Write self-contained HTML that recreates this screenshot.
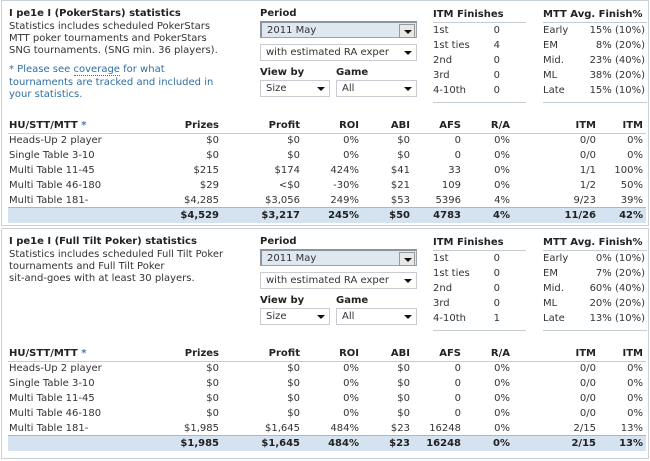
<!DOCTYPE html>
<html><head><meta charset="utf-8"><style>
body{margin:0;width:650px;height:461px;background:#fff;font-family:"DejaVu Sans","Liberation Sans",sans-serif;font-size:10px;color:#333;position:relative;overflow:hidden}
.a{position:absolute;white-space:nowrap;line-height:12px}
.b{font-weight:bold;color:#222}
.panel{position:absolute;left:1px;width:646px;border:1px solid #c8d0d8}
.sel{position:absolute;border:1px solid #c8ccd2;background:#fff;font-size:10px;line-height:15px;padding-left:5px;box-sizing:border-box;height:17px}
.sel.hl{background:#dfe7f1;border-color:#9aa4ae;border-top:2px solid #8a949e;border-left:2px solid #8a949e}
.arr{position:absolute;right:4px;top:6px;width:0;height:0;border-left:4px solid transparent;border-right:4px solid transparent;border-top:4px solid #111}
.btn{position:absolute;right:1px;top:1px;width:14px;height:12px;background:#e8e8e8;border:1px solid #999}
.btn .arr{right:2px;top:5px}
.line{position:absolute;height:1px;background:#c4ccd4}
.tot{position:absolute;left:8px;width:638px;height:15px;background:#d5e2ef}
</style></head><body>
<div id="root"></div>
<script>
const rowLabels=["Heads-Up 2 player","Single Table 3-10","Multi Table 11-45","Multi Table 46-180","Multi Table 181-"];
const headers=["Prizes","Profit","ROI","ABI","AFS","R/A","ITM","ITM"];
const colRight=[219,300,359,410,461,510,596,643];
const t1=[["$0","$0","0%","$0","0","0%","0/0","0%"],["$0","$0","0%","$0","0","0%","0/0","0%"],["$215","$174","424%","$41","33","0%","1/1","100%"],["$29","<$0","-30%","$21","109","0%","1/2","50%"],["$4,285","$3,056","249%","$53","5396","4%","9/23","39%"]];
const t1tot=["$4,529","$3,217","245%","$50","4783","4%","11/26","42%"];
const t2=[["$0","$0","0%","$0","0","0%","0/0","0%"],["$0","$0","0%","$0","0","0%","0/0","0%"],["$0","$0","0%","$0","0","0%","0/0","0%"],["$0","$0","0%","$0","0","0%","0/0","0%"],["$1,985","$1,645","484%","$23","16248","0%","2/15","13%"]];
const t2tot=["$1,985","$1,645","484%","$23","16248","0%","2/15","13%"];
const itmLabels=["1st","1st ties","2nd","3rd","4-10th"];
const itm1=["0","4","0","0","0"];
const itm2=["0","0","0","0","1"];
const mttLabels=["Early","EM","Mid.","ML","Late"];
const mtt1=["15% (10%)","8% (20%)","23% (40%)","38% (20%)","15% (10%)"];
const mtt2=["0% (10%)","7% (20%)","60% (40%)","20% (20%)","13% (10%)"];

const root=document.getElementById('root');
function el(html){const d=document.createElement('div');d.innerHTML=html;const e=d.firstChild;root.appendChild(e);return e;}
function txt(x,y,s,cls,name,right){const e=document.createElement('div');e.className='a '+(cls||'');e.textContent=s;e.style.top=(y-6)+'px';if(right){e.style.right=(650-x)+'px';}else{e.style.left=x+'px';}


root.appendChild(e);return e;}

function panel(o){
  const p=document.createElement('div');p.className='panel';p.style.top=o.top+'px';p.style.height=o.h+'px';
  
  
  root.appendChild(p);
  const y0=o.top;
  txt(9,y0+14,o.title,'b',o.name+'-title');
  o.desc.forEach((l,i)=>txt(9,y0+27+i*12,l,'',o.name+'-description'));
  if(o.note){const n=txt(9,y0+70,'','',o.name+'-coverage-note');n.style.color='#2f6ea5';n.style.lineHeight='12.5px';n.innerHTML='* Please see <span style="border-bottom:1px dotted #2f6ea5">coverage</span> for what<br>tournaments are tracked and included in<br>your statistics.';}
  txt(260,y0+14,'Period','b',o.name+'-period-label');
  const s=[[260,y0+21,157,'2011 May',true,'period-select'],[260,y0+44,157,'with estimated RA exper',false,'ra-select'],[260,y0+80,70,'Size',false,'view-by-select'],[336,y0+80,81,'All',false,'game-select']];
  s.forEach(a=>{const e=document.createElement('div');e.className='sel'+(a[4]?' hl':'');e.style.left=a[0]+'px';e.style.top=a[1]+'px';e.style.width=a[2]+'px';e.textContent=a[3];
    
    
    const ar=document.createElement('div');ar.className='arr';
    if(a[4]){const b=document.createElement('div');b.className='btn';b.appendChild(ar);e.appendChild(b);}else e.appendChild(ar);
    root.appendChild(e);});
  txt(260,y0+73,'View by','b',o.name+'-view-by-label');
  txt(336,y0+73,'Game','b',o.name+'-game-label');
  txt(433,y0+15,'ITM Finishes','b',o.name+'-itm-title');
  txt(543,y0+15,'MTT Avg. Finish%','b',o.name+'-mtt-title');
  [[433,93],[543,104]].forEach(a=>{const l=el('<div class="line"></div>');l.style.left=a[0]+'px';l.style.width=a[1]+'px';l.style.top=(y0+22)+'px';
    const l2=el('<div class="line"></div>');l2.style.left=a[0]+'px';l2.style.width=a[1]+'px';l2.style.top=(y0+102)+'px';});
  itmLabels.forEach((l,i)=>{const y=y0+31+i*15;txt(433,y,l,'',o.name+'-itm-label');txt(500,y,o.itm[i],'',o.name+'-itm-value',true);
    txt(543,y,mttLabels[i],'',o.name+'-mtt-label');txt(645,y,o.mtt[i],'',o.name+'-mtt-value',true);});
  const ty=y0+o.tableY;
  const h=txt(9,ty,'','b',o.name+'-col-hu');h.innerHTML='HU/STT/MTT <span style="color:#3a7ac0">*</span>';
  headers.forEach((hh,i)=>txt(colRight[i],ty,hh,'b',o.name+'-col-'+hh.toLowerCase().replace('/',''),true));
  const hl=el('<div class="line"></div>');hl.style.left='8px';hl.style.width='638px';hl.style.top=(ty+7)+'px';
  rowLabels.forEach((rl,r)=>{const y=ty+15+r*15.1;txt(9,y,rl,'',o.name+'-row-label');o.rows[r].forEach((v,c)=>txt(colRight[c],y,v,'',o.name+'-cell',true));});
  const tb=el('<div class="tot"></div>');tb.style.top=(ty+82)+'px';
  const tl=el('<div class="line"></div>');tl.style.left='8px';tl.style.width='638px';tl.style.top=(ty+81)+'px';tl.style.background='#a8b8c8';
  o.tot.forEach((v,c)=>txt(colRight[c],ty+90,v,'b',o.name+'-total-cell',true));
}
panel({name:'pokerstars',top:0,h:224,title:'I pe1e I (PokerStars) statistics',desc:['Statistics includes scheduled PokerStars','MTT poker tournaments and PokerStars','SNG tournaments. (SNG min. 36 players).'],note:true,itm:itm1,mtt:mtt1,rows:t1,tot:t1tot,tableY:126});
panel({name:'fulltilt',top:228,h:229,title:'I pe1e I (Full Tilt Poker) statistics',desc:['Statistics includes scheduled Full Tilt Poker','tournaments and Full Tilt Poker','sit-and-goes with at least 30 players.'],note:false,itm:itm2,mtt:mtt2,rows:t2,tot:t2tot,tableY:126});
</script>
</body></html>
